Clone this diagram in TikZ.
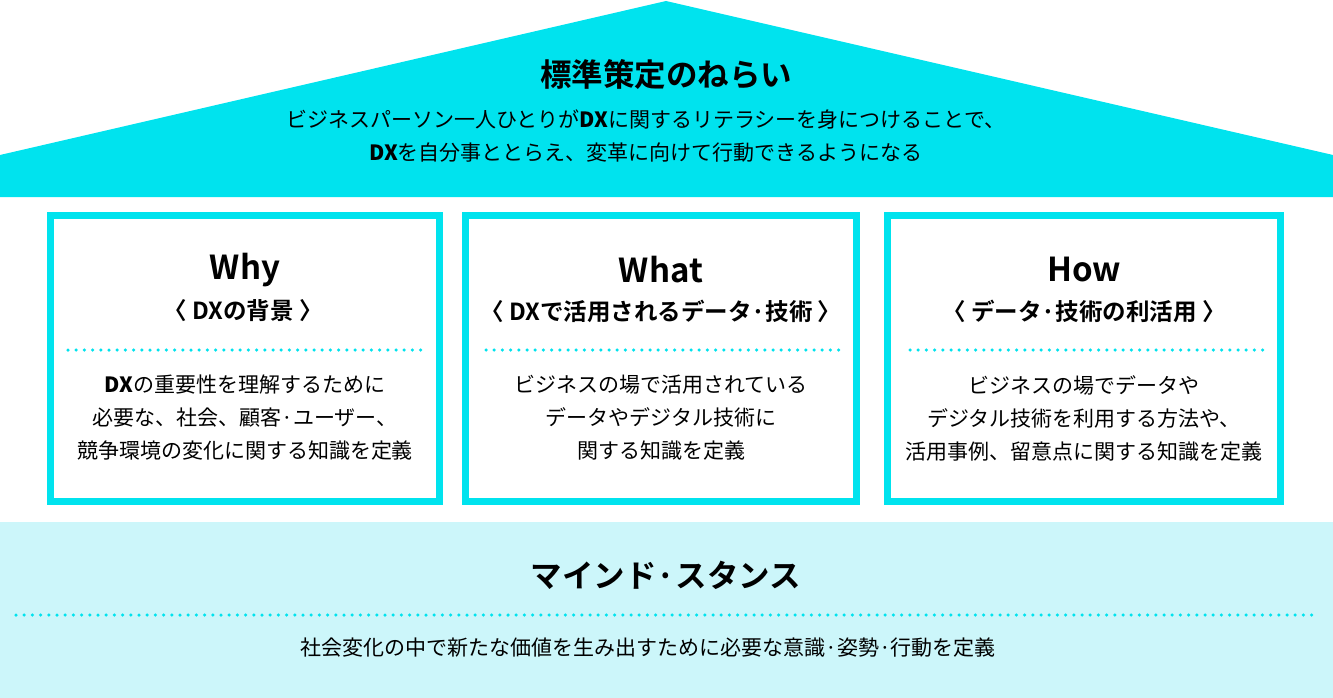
\documentclass[tikz,border=0pt]{standalone}
\usepackage{fontspec}
\setmainfont{Noto Sans CJK JP}
\newfontfamily\jpbold{Noto Sans CJK JP Bold}
\usetikzlibrary{positioning}
\definecolor{dxcyan}{HTML}{00E3EE}
\definecolor{dxpale}{HTML}{CCF6FA}
\tikzset{
  pillar/.style={draw=dxcyan, line width=7pt, fill=white},
  head/.style={font=\jpbold\fontsize{33}{36}\selectfont, text=black},
  subhead/.style={font=\jpbold\fontsize{23.5}{27}\selectfont, text=black},
  body/.style={font=\fontsize{21}{33}\selectfont, align=center, text=black},
  dots/.style={dxcyan, line width=3.5pt, line cap=round, dash pattern=on 0pt off 8.2pt}
}
\begin{document}
\begin{tikzpicture}[x=1pt,y=-1pt]
  \useasboundingbox (0,0) rectangle (1333,698);
  % roof
  \fill[dxcyan] (0,155) -- (666,1) -- (1333,155) -- (1333,197) -- (0,197) -- cycle;
  \node[head, font=\jpbold\fontsize{31.5}{34}\selectfont] (aim) at (666,75) {標準策定のねらい};
  \node[body] (aimtxt) at (646,136) {ビジネスパーソン一人ひとりが\textbf{DX}に関するリテラシーを身につけることで、\\\textbf{DX}を自分事ととらえ、変革に向けて行動できるようになる};
  % pillars
  \draw[pillar] (50.5,215.5) rectangle (439.5,501.5);
  \draw[pillar] (465.5,215.5) rectangle (856.5,501.5);
  \draw[pillar] (887.5,215.5) rectangle (1280.5,501.5);
  \node[head] (why) at (245,270) {Why};
  \node[subhead] (whysub) at (243,311) {〈\ DXの背景 〉};
  \draw[dots] (68,350) -- (425,350);
  \node[body] (whytxt) at (245,418) {\textbf{DX}の重要性を理解するために\\必要な、社会、顧客·ユーザー、\\競争環境の変化に関する知識を定義};
  \node[head] (what) at (661,270) {What};
  \node[subhead] (whatsub) at (661,311) {〈\ DXで活用されるデータ·技術 〉};
  \draw[dots] (486,350) -- (842,350);
  \node[body] (whattxt) at (661,418) {ビジネスの場で活用されている\\データやデジタル技術に\\関する知識を定義};
  \node[head] (how) at (1084,270) {How};
  \node[subhead] (howsub) at (1084,311) {〈\ データ·技術の利活用 〉};
  \draw[dots] (910,350) -- (1266,350);
  \node[body] (howtxt) at (1084,418) {ビジネスの場でデータや\\デジタル技術を利用する方法や、\\活用事例、留意点に関する知識を定義};
  % foundation
  \fill[dxpale] (0,522) rectangle (1333,698);
  \node[head, font=\jpbold\fontsize{31.5}{34}\selectfont] (mind) at (666,575) {マインド·スタンス};
  \draw[dots] (16,615) -- (1318,615);
  \node[body] (mindtxt) at (648,648) {社会変化の中で新たな価値を生み出すために必要な意識·姿勢·行動を定義};
\end{tikzpicture}
\end{document}
